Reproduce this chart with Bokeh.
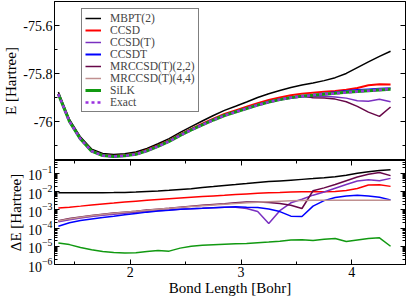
from bokeh.plotting import figure
from bokeh.layouts import column
from bokeh.models import (Range1d, LinearAxis, LogAxis, FixedTicker, Legend,
                          LegendItem, LogTickFormatter)
from bokeh.embed import file_html
from bokeh.resources import INLINE

# ---------------- data ----------------
bond = [1.35, 1.45, 1.55, 1.65, 1.75, 1.85, 1.95, 2.05, 2.15, 2.25, 2.35,
        2.45, 2.55, 2.65, 2.75, 2.85, 2.95, 3.05, 3.15, 3.25, 3.35, 3.45,
        3.55, 3.65, 3.75, 3.85, 3.95, 4.05, 4.15, 4.25, 4.35]

e_exact = [-75.8857, -75.9996, -76.0729, -76.1230, -76.1412, -76.1453, -76.1424,
           -76.1362, -76.1217, -76.1031, -76.0824, -76.0576, -76.0348, -76.0141,
           -75.9934, -75.9747, -75.9602, -75.9458, -75.9313, -75.9188, -75.9085,
           -75.9002, -75.8940, -75.8899, -75.8857, -75.8824, -75.8783, -75.8750,
           -75.8716, -75.8683, -75.8650]

# signed errors E(method) - E(exact), Hartree
de_mbpt2 = [0.0085, 0.0085, 0.0085, 0.0085, 0.0086, 0.0087, 0.0089, 0.0093, 0.0100,
            0.0107, 0.0117, 0.0129, 0.0141, 0.0166, 0.0188, 0.0214, 0.0242, 0.0275,
            0.0316, 0.0348, 0.0382, 0.0420, 0.0462, 0.0509, 0.0562, 0.0653, 0.0787,
            0.100, 0.120, 0.140, 0.158]
de_ccsd = [0.00123, 0.00138, 0.00158, 0.00182, 0.00209, 0.00234, 0.00263, 0.00295,
           0.00331, 0.00363, 0.00398, 0.00437, 0.00479, 0.00525, 0.00569, 0.00617,
           0.00676, 0.00733, 0.00794, 0.00851, 0.00891, 0.00944, 0.00955, 0.00955,
           0.00955, 0.0100, 0.0112, 0.0145, 0.0229, 0.0234, 0.0191]
de_ccsd_t = [0.000219, 0.000282, 0.000355, 0.000427, 0.000501, 0.000575, 0.000646,
             0.000724, 0.000813, 0.000891, 0.000977, 0.00105, 0.00112, 0.00120,
             0.00129, 0.00138, 0.00138, 0.00117, 0.000794, 0.000174, -0.000891,
             -0.0024, -0.0038, -0.0063, -0.0093, -0.0151, -0.024, -0.038, -0.0437,
             -0.0389, -0.0525]
de_ccsdt = [0.000126, 0.000195, 0.000257, 0.000316, 0.000380, 0.000447, 0.000537,
            0.000617, 0.000741, 0.000851, 0.000933, 0.00105, 0.00112, 0.00120,
            0.00129, 0.00138, 0.00145, 0.00138, 0.00132, 0.00110, 0.000794,
            0.000447, 0.000427, 0.00158, 0.00316, 0.00468, 0.00575, 0.00617,
            0.00562, 0.00479, 0.00347]
de_mrcc22 = [0.000251, 0.000331, 0.000398, 0.000479, 0.000562, 0.000661, 0.000741,
             0.000832, 0.000955, 0.00107, 0.00120, 0.00138, 0.00155, 0.00174,
             0.00195, 0.00214, 0.0024, 0.00269, 0.00269, 0.00251, 0.00219, 0.00178,
             0.00117, -0.011, -0.0158, -0.024, -0.0389, -0.0617, -0.0891, -0.110,
             -0.0741]
de_mrcc44 = [0.00024, 0.000316, 0.000389, 0.000468, 0.00055, 0.000646, 0.000724,
             0.000832, 0.000933, 0.00107, 0.0012, 0.00135, 0.00151, 0.00166,
             0.00182, 0.002, 0.00219, 0.0024, 0.00257, 0.00275, 0.00295, 0.00309,
             0.00324, 0.00331, 0.00331, 0.00331, 0.00331, 0.00331, 0.00331,
             0.00331, 0.00331]
de_silk = [1.51e-5, 1.23e-5, 8.5e-6, 6.5e-6, 5.2e-6, 4.5e-6, 4.3e-6, 4.4e-6, 5.1e-6,
           5.9e-6, 5.4e-6, 7.9e-6, 1.0e-5, 1.12e-5, 1.2e-5, 1.29e-5, 1.35e-5,
           1.41e-5, 1.55e-5, 1.7e-5, 1.9e-5, 2.19e-5, 2.29e-5, 2.09e-5, 2.4e-5,
           2.69e-5, 1.82e-5, 2.19e-5, 2.63e-5, 2.88e-5, 1.0e-5]

methods = ["MBPT(2)", "CCSD", "CCSD(T)", "CCSDT", "MRCCSD(T)(2,2)",
           "MRCCSD(T)(4,4)", "SiLK"]
errors = [de_mbpt2, de_ccsd, de_ccsd_t, de_ccsdt, de_mrcc22, de_mrcc44, de_silk]
colors = ["#000000", "#ff0000", "#7a30c0", "#0000ff", "#670748", "#c09090", "#119911"]
top_widths = [1.5, 2, 1.5, 2, 1.5, 1.5, 3]
exact_color = "#9a30e0"

x_ticks = [2, 3, 4]
x_minor = [1.5, 2.5, 3.5, 4.5]
e_ticks = [-76.0, -75.8, -75.6]
e_minor = [-76.1, -75.9, -75.7, -75.5]
e_labels = {-76.0: "-76", -75.8: "-75.8", -75.6: "-75.6"}
de_ticks = [1e-6, 1e-5, 1e-4, 1e-3, 1e-2, 1e-1]
de_minor = [k * 10.0 ** n for n in range(-6, 0) for k in range(2, 10)]

FONT = "Liberation Serif"
FW = 351
FH1 = 159
FH2 = 104

def style_axis(ax, labels=True):
    ax.axis_line_color = "black"
    ax.major_tick_line_color = "black"
    ax.minor_tick_line_color = "black"
    ax.major_tick_in = 5
    ax.major_tick_out = 0
    ax.minor_tick_in = 3
    ax.minor_tick_out = 0
    ax.major_label_text_font = FONT
    ax.axis_label_text_font = FONT
    ax.axis_label_text_font_style = "normal"
    ax.axis_label_text_font_size = "15px"
    ax.axis_label_text_color = "black"
    ax.major_label_text_color = "black"
    if labels:
        ax.major_label_text_font_size = "14px"
        ax.major_label_standoff = 2
        ax.axis_label_standoff = 1
    else:
        ax.major_label_text_font_size = "1px"
        ax.major_label_text_alpha = 0
        ax.major_label_standoff = 0

# ---------------- top panel ----------------
p1 = figure(frame_width=FW, frame_height=FH1, x_range=Range1d(1.315, 4.485),
            y_range=Range1d(-76.162, -75.5), output_backend="svg",
            toolbar_location=None, min_border_left=52, min_border_right=3,
            min_border_top=1, min_border_bottom=0)
p1.grid.visible = False
p1.outline_line_color = "black"
p1.outline_line_alpha = 1
p1.xaxis.visible = False
p1.yaxis.ticker = FixedTicker(ticks=e_ticks, minor_ticks=e_minor)
p1.yaxis.major_label_overrides = e_labels
p1.yaxis.axis_label = "E [Hartree]"
style_axis(p1.yaxis[0])
r_axis1 = LinearAxis(ticker=FixedTicker(ticks=e_ticks, minor_ticks=e_minor))
style_axis(r_axis1, labels=False)
p1.add_layout(r_axis1, "right")

items = []
for name, de, c, w in zip(methods, errors, colors, top_widths):
    e_m = [e + d for e, d in zip(e_exact, de)]
    r = p1.line(bond, e_m, line_color=c, line_width=w)
    items.append(LegendItem(label=name, renderers=[r]))
r_ex = p1.line(bond, e_exact, line_color=exact_color, line_width=2.5, line_dash="3 3")
items.append(LegendItem(label="Exact", renderers=[r_ex]))

legend = Legend(items=items, location=(27, 48), label_text_font=FONT,
                label_text_font_size="11.5px", glyph_width=16, glyph_height=12,
                label_height=12, spacing=0, padding=3, margin=0,
                border_line_color="black", border_line_width=1, label_standoff=9,
                background_fill_alpha=1)
p1.add_layout(legend)

# ---------------- bottom panel ----------------
p2 = figure(frame_width=FW, frame_height=FH2, x_range=p1.x_range,
            y_range=Range1d(1e-6, 0.5), y_axis_type="log", output_backend="svg",
            toolbar_location=None, min_border_left=52, min_border_right=3,
            min_border_top=0, min_border_bottom=0)
p2.grid.visible = False
p2.outline_line_color = "black"
p2.outline_line_alpha = 1
p2.xaxis.ticker = FixedTicker(ticks=x_ticks, minor_ticks=x_minor)
p2.xaxis.axis_label = "Bond Length [Bohr]"
style_axis(p2.xaxis[0])
p2.xaxis.axis_label_standoff = 0
p2.yaxis.ticker = FixedTicker(ticks=de_ticks, minor_ticks=de_minor)
p2.yaxis.formatter = LogTickFormatter()
p2.yaxis.axis_label = "\u0394E [Hartree]"
style_axis(p2.yaxis[0])
top_axis2 = LinearAxis(ticker=FixedTicker(ticks=x_ticks, minor_ticks=x_minor))
style_axis(top_axis2, labels=False)
p2.add_layout(top_axis2, "above")
r_axis2 = LogAxis(ticker=FixedTicker(ticks=de_ticks, minor_ticks=de_minor))
style_axis(r_axis2, labels=False)
p2.add_layout(r_axis2, "right")

for de, c in zip(errors, colors):
    p2.line(bond, [abs(d) for d in de], line_color=c, line_width=1.5)

layout = column(p1, p2, spacing=0)
open("out.html", "w").write(file_html(layout, INLINE))
